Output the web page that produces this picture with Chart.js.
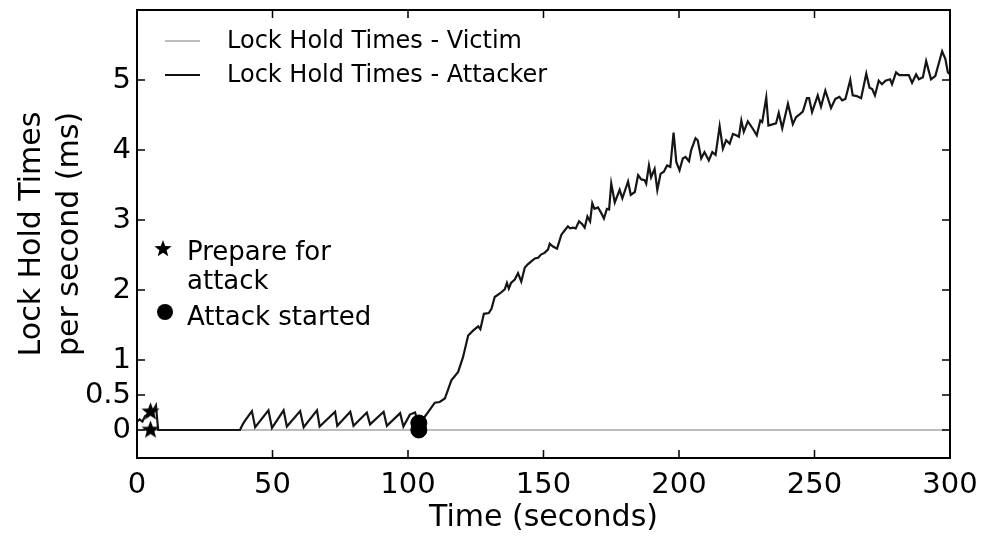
<!DOCTYPE html>
<html>
<head>
<meta charset="utf-8">
<title>Lock Hold Times</title>
<script src="https://cdn.jsdelivr.net/npm/chart.js@4.4.1/dist/chart.umd.min.js"></script>
<style>
  body { margin: 0; background: #fff; }
  #wrap { width: 986px; height: 539px; position: relative; }
</style>
</head>
<body>
<div id="wrap"><canvas id="lockChart"></canvas></div>
<script>
// attacker lock hold time per second (ms)
const attackerTime = [
  0, 1, 2, 3, 4, 5, 6, 7, 7.8, 38,
  39, 40, 42.4, 43.6, 48.5, 49.8, 54.1, 55.3, 60.2, 61.5,
  66.4, 67.4, 73.1, 73.9, 78.7, 79.9, 84.8, 86, 91, 92.2,
  97.1, 98.3, 100.7, 102.6, 103.6, 104, 106.2, 109.9, 111.7, 113.6,
  116, 118.5, 120.3, 122.2, 124, 125.9, 126.7, 128, 129.8, 130.8,
  132, 133.9, 135.7, 136.5, 137.2, 138, 139.4, 140.6, 141.8, 143.1,
  144.3, 145.5, 146.8, 148, 149.2, 150.4, 151.7, 152.3, 153.5, 155,
  156.6, 157.8, 159, 159.8, 160.9, 161.9, 163.1, 164.3, 165.2, 166.2,
  167.2, 168, 168.8, 170.1, 171.3, 172.3, 173.4, 174.2, 175, 176.3,
  178.1, 179.1, 181.2, 182.2, 183.7, 184.9, 186.1, 187.3, 187.9, 188.9,
  189.7, 191, 192, 193.2, 194.4, 195.6, 196.8, 198, 199, 200.2,
  201.4, 202.4, 203.7, 204.5, 206.1, 206.9, 208.2, 209.4, 211, 212.3,
  213.5, 215, 216.2, 217.4, 218.7, 219.9, 221.1, 222.1, 223, 223.9,
  225.4, 227.3, 228.7, 230, 230.7, 232.2, 233, 234.8, 235.8, 236.8,
  238.1, 240.2, 242, 243.2, 244.5, 245.7, 247.2, 248, 249.1, 251.2,
  252.4, 254, 256.1, 257.7, 259.2, 260.2, 261.4, 263.2, 264.1, 265.6,
  267.2, 269.1, 270.3, 271.3, 272.3, 273.7, 274.9, 276.2, 277.9, 278.6,
  280.1, 281.3, 283.2, 284.8, 286, 287.5, 288.5, 290, 291.2, 293,
  294.6, 297.1, 298.3, 299.2, 300
];
const attackerLoad = [
  0.12, 0.15, 0.12, 0.2, 0.22, 0.25, 0.28, 0.35, 0, 0,
  0.08, 0.14, 0.27, 0.04, 0.28, 0.03, 0.28, 0.05, 0.27, 0.04,
  0.28, 0.05, 0.26, 0.06, 0.26, 0.06, 0.25, 0.08, 0.26, 0.06,
  0.24, 0.05, 0.22, 0.25, 0.12, 0.1, 0.19, 0.39, 0.4, 0.45,
  0.71, 0.83, 1.04, 1.35, 1.42, 1.48, 1.44, 1.66, 1.67, 1.73,
  1.9, 1.95, 2.01, 2.1, 2.02, 2.1, 2.15, 2.24, 2.12, 2.32,
  2.37, 2.41, 2.45, 2.46, 2.51, 2.53, 2.58, 2.66, 2.62, 2.59,
  2.79, 2.85, 2.91, 2.88, 2.89, 2.88, 2.98, 2.94, 2.89, 3.05,
  2.98, 3.24, 3.16, 3.18, 3.1, 3.02, 3.16, 3.15, 3.52, 3.25,
  3.43, 3.31, 3.55, 3.36, 3.4, 3.64, 3.58, 3.57, 3.52, 3.78,
  3.61, 3.73, 3.43, 3.66, 3.69, 3.78, 3.76, 4.25, 3.83, 3.71,
  3.88, 3.9, 3.84, 4.0, 4.17, 4.14, 3.88, 3.97, 3.85, 3.97,
  3.93, 4.34, 4.02, 4.14, 4.09, 4.23, 4.21, 4.19, 4.42, 4.26,
  4.41, 4.3, 4.21, 4.42, 4.4, 4.75, 4.35, 4.37, 4.38, 4.53,
  4.31, 4.66, 4.37, 4.47, 4.51, 4.55, 4.74, 4.74, 4.54, 4.78,
  4.62, 4.85, 4.6, 4.73, 4.76, 4.71, 4.73, 5.0, 4.78, 4.77,
  4.74, 5.09, 4.89, 4.87, 4.78, 4.99, 4.94, 4.99, 5.01, 4.94,
  5.11, 5.07, 5.07, 5.07, 4.96, 5.08, 5.01, 5.04, 5.27, 5.01,
  5.06, 5.41, 5.3, 5.11, 5.08
];

// victim stays flat at zero for the whole run
const victimTime = [0, 300];
const victimLoad = [0, 0];

// event markers
const prepareTime = [5, 5];
const prepareLoad = [0, 0.26];
const startTime = [104, 104];
const startLoad = [0, 0.1];

const xTicks = [0, 50, 100, 150, 200, 250, 300];
const yTicks = [0, 0.5, 1, 2, 3, 4, 5];

const FONT = "'DejaVu Sans', 'Liberation Sans', sans-serif";
Chart.defaults.font.family = FONT;
Chart.defaults.color = '#000';

function pairs(xs, ys) {
  return xs.map((x, i) => ({ x: x, y: ys[i] }));
}

// filled five point star used as a point style
function makeStar(r) {
  const c = document.createElement('canvas');
  const s = Math.ceil(r * 2 + 2);
  c.width = s;
  c.height = s;
  const g = c.getContext('2d');
  g.translate(s / 2, s / 2);
  g.beginPath();
  for (let i = 0; i < 10; i++) {
    const rad = i % 2 === 0 ? r : r * 0.42;
    const a = -Math.PI / 2 + i * Math.PI / 5;
    g.lineTo(rad * Math.cos(a), rad * Math.sin(a));
  }
  g.closePath();
  g.fillStyle = '#000';
  g.fill();
  return c;
}
const starBig = makeStar(9.5);
const starSmall = makeStar(9);

// frame with inward ticks on all four sides
const framePlugin = {
  id: 'frame',
  afterDatasetsDraw(chart) {
    const { ctx, chartArea: a, scales: { x, y } } = chart;
    ctx.save();
    ctx.strokeStyle = '#000';
    ctx.lineWidth = 1.5;
    ctx.beginPath();
    x.ticks.forEach(t => {
      const px = x.getPixelForValue(t.value);
      ctx.moveTo(px, a.bottom); ctx.lineTo(px, a.bottom - 8);
      ctx.moveTo(px, a.top); ctx.lineTo(px, a.top + 8);
    });
    y.ticks.forEach(t => {
      const py = y.getPixelForValue(t.value);
      ctx.moveTo(a.left, py); ctx.lineTo(a.left + 8, py);
      ctx.moveTo(a.right, py); ctx.lineTo(a.right - 8, py);
    });
    ctx.stroke();
    ctx.lineWidth = 2;
    ctx.strokeRect(a.left, a.top, a.right - a.left, a.bottom - a.top);
    ctx.restore();
  }
};

// two legends: line series at the top, event markers on the left
const legendPlugin = {
  id: 'twoLegends',
  afterDraw(chart) {
    const { ctx, chartArea: a } = chart;
    ctx.save();
    ctx.textBaseline = 'middle';
    ctx.textAlign = 'left';

    ctx.font = '24px ' + FONT;
    const rows = [
      { label: 'Lock Hold Times - Victim', color: '#bdbdbd', dy: 31 },
      { label: 'Lock Hold Times - Attacker', color: '#111', dy: 65 }
    ];
    rows.forEach(r => {
      ctx.strokeStyle = r.color;
      ctx.lineWidth = 2;
      ctx.beginPath();
      ctx.moveTo(a.left + 28, a.top + r.dy);
      ctx.lineTo(a.left + 63, a.top + r.dy);
      ctx.stroke();
      ctx.fillStyle = '#000';
      ctx.fillText(r.label, a.left + 90, a.top + r.dy + 1);
    });

    ctx.font = '26px ' + FONT;
    ctx.drawImage(starSmall, a.left + 26 - starSmall.width / 2, a.top + 239 - starSmall.height / 2);
    ctx.fillText('Prepare for', a.left + 50, a.top + 243);
    ctx.fillText('attack', a.left + 50, a.top + 272);
    ctx.fillStyle = '#000';
    ctx.beginPath();
    ctx.arc(a.left + 28, a.top + 302, 8, 0, Math.PI * 2);
    ctx.fill();
    ctx.fillText('Attack started', a.left + 50, a.top + 308);
    ctx.restore();
  }
};

new Chart(document.getElementById('lockChart'), {
  type: 'line',
  data: {
    datasets: [
      {
        label: 'Prepare for attack',
        data: pairs(prepareTime, prepareLoad),
        showLine: false,
        pointStyle: starBig,
        pointRadius: 9,
        order: 0
      },
      {
        label: 'Attack started',
        data: pairs(startTime, startLoad),
        showLine: false,
        pointStyle: 'circle',
        pointRadius: 8,
        backgroundColor: '#000',
        borderColor: '#000',
        order: 0
      },
      {
        label: 'Lock Hold Times - Attacker',
        data: pairs(attackerTime, attackerLoad),
        borderColor: '#151515',
        borderWidth: 2.2,
        pointRadius: 0,
        tension: 0,
        order: 1
      },
      {
        label: 'Lock Hold Times - Victim',
        data: pairs(victimTime, victimLoad),
        borderColor: '#bdbdbd',
        borderWidth: 2,
        pointRadius: 0,
        tension: 0,
        order: 2
      }
    ]
  },
  options: {
    responsive: true,
    maintainAspectRatio: false,
    animation: false,
    layout: { padding: { top: 8, right: 36, left: 0, bottom: 0 } },
    plugins: {
      legend: { display: false },
      tooltip: { enabled: false }
    },
    scales: {
      x: {
        type: 'linear',
        min: 0,
        max: 300,
        afterBuildTicks: s => { s.ticks = xTicks.map(v => ({ value: v })); },
        afterFit: s => { s.height = 81; s.paddingLeft = 0; s.paddingRight = 0; },
        grid: { display: false, drawTicks: false },
        border: { display: false },
        ticks: { font: { size: 29 }, padding: 10, maxRotation: 0, callback: v => String(v) },
        title: {
          display: true,
          text: 'Time (seconds)',
          font: { size: 30 },
          padding: { top: 0, bottom: 3 }
        }
      },
      y: {
        type: 'linear',
        min: -0.4,
        max: 6,
        afterBuildTicks: s => { s.ticks = yTicks.map(v => ({ value: v })); },
        afterFit: s => { s.width = 137; s.paddingTop = 0; s.paddingBottom = 0; },
        grid: { display: false, drawTicks: false },
        border: { display: false },
        ticks: { font: { size: 29 }, padding: 6, callback: v => String(v) },
        title: {
          display: true,
          text: ['Lock Hold Times', 'per second (ms)'],
          font: { size: 30, lineHeight: 1.27 },
          padding: { top: 13, bottom: 0 }
        }
      }
    }
  },
  plugins: [framePlugin, legendPlugin]
});
</script>
</body>
</html>
